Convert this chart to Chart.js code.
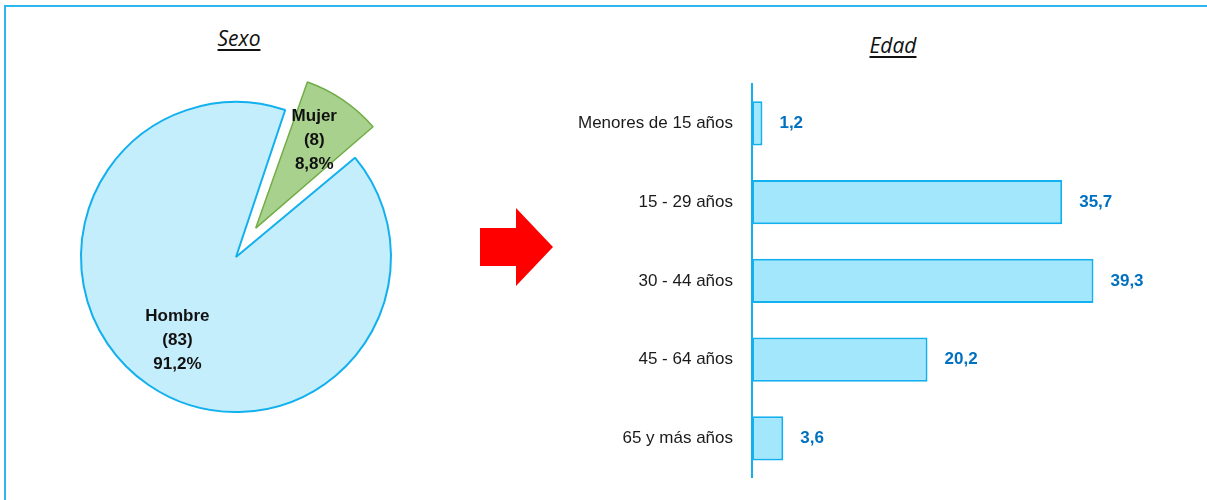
<!DOCTYPE html>
<html>
<head>
<meta charset="utf-8">
<script src="https://cdn.jsdelivr.net/npm/chart.js@4/dist/chart.umd.min.js"></script>
<style>
  body { margin: 0; background: #fff; width: 1207px; height: 500px; overflow: hidden; position: relative; }
  .frame { position: absolute; left: 4px; top: 5px; width: 1220px; height: 520px; border-top: 2px solid #2cb8ef; border-left: 2px solid #2cb8ef; }
  .title { position: absolute; width: 120px; text-align: center; line-height: 24px; font-family: "Open Sans", "DejaVu Sans", sans-serif; font-style: italic; font-size: 21px; color: #111; text-decoration: underline; text-underline-offset: 3px; }
  canvas { position: absolute; top: 0; }
</style>
</head>
<body>
<div class="frame"></div>
<div class="title" style="left:179px; top:26px;">Sexo</div>
<div class="title" style="left:833px; top:33px;">Edad</div>
<canvas id="pie" width="560" height="500" style="left:0"></canvas>
<canvas id="bar" width="640" height="507" style="left:560px"></canvas>
<script>
const sexoLabels = ["Mujer", "Hombre"];
const sexoCounts = [8, 83];
const sexoPct = [8.8, 91.2];

const edadLabels = ["Menores de 15 años", "15 - 29 años", "30 - 44 años", "45 - 64 años", "65 y más años"];
const edadValues = [1.2, 35.7, 39.3, 20.2, 3.6];

const sans = "'Liberation Sans', Arial, sans-serif";
const blue = "#12b0ee";
const fmt = v => v.toFixed(1).replace(".", ",");

// pull the exploded slice back to the same radius as the rest
const arcRadiusFix = {
  id: "arcRadiusFix",
  afterUpdate(chart) {
    chart.getDatasetMeta(0).data.forEach(arc => {
      const off = (arc.options.offset || 0) / 4;
      const fix = 1 - Math.sin(Math.min(Math.PI, arc.circumference));
      arc.outerRadius -= off * fix;
    });
  }
};

const pieLabels = {
  id: "pieLabels",
  afterDatasetsDraw(chart) {
    const ctx = chart.ctx;
    chart.getDatasetMeta(0).data.forEach((arc, i) => {
      const mid = (arc.startAngle + arc.endAngle) / 2;
      const d = (arc.options.offset || 0) / 4 + 0.67 * 155;
      const x = arc.x + Math.cos(mid) * d;
      const y = arc.y + Math.sin(mid) * d;
      ctx.save();
      ctx.fillStyle = "#111";
      ctx.font = "bold 17px " + sans;
      ctx.textAlign = "center";
      ctx.textBaseline = "middle";
      const lines = [sexoLabels[i], "(" + sexoCounts[i] + ")", fmt(sexoPct[i]) + "%"];
      lines.forEach((t, k) => ctx.fillText(t, x, y + (k - 1) * 24 - 2));
      ctx.restore();
    });
  }
};

const arrow = {
  id: "arrow",
  afterDraw(chart) {
    const ctx = chart.ctx;
    ctx.save();
    ctx.fillStyle = "#ff0000";
    ctx.beginPath();
    ctx.moveTo(480, 228);
    ctx.lineTo(516, 228);
    ctx.lineTo(516, 208);
    ctx.lineTo(553, 247);
    ctx.lineTo(516, 286);
    ctx.lineTo(516, 266);
    ctx.lineTo(480, 266);
    ctx.closePath();
    ctx.fill();
    ctx.restore();
  }
};

new Chart(document.getElementById("pie"), {
  type: "pie",
  data: {
    labels: sexoLabels,
    datasets: [{
      data: sexoCounts,
      backgroundColor: ["#a9d18e", "#c5eefc"],
      borderColor: ["#70ad47", blue],
      borderWidth: [1.5, 2],
      offset: [140, 0]
    }]
  },
  options: {
    responsive: false,
    animation: false,
    events: [],
    rotation: 18.5,
    radius: 155,
    layout: { padding: { top: 14, bottom: 0, left: 0, right: 88 } },
    plugins: { legend: { display: false }, tooltip: { enabled: false } }
  },
  plugins: [arcRadiusFix, pieLabels, arrow]
});

const barLabels = {
  id: "barLabels",
  afterDatasetsDraw(chart) {
    const ctx = chart.ctx;
    ctx.save();
    ctx.fillStyle = "#0070c0";
    ctx.font = "bold 17px " + sans;
    ctx.textAlign = "left";
    ctx.textBaseline = "middle";
    chart.getDatasetMeta(0).data.forEach((bar, i) => {
      ctx.fillText(fmt(edadValues[i]), bar.x + 17, bar.y);
    });
    ctx.restore();
  }
};

new Chart(document.getElementById("bar"), {
  type: "bar",
  data: {
    labels: edadLabels,
    datasets: [{
      data: edadValues,
      backgroundColor: "#a3e7fc",
      borderColor: blue,
      borderWidth: 2,
      borderSkipped: false,
      barPercentage: 0.75,
      categoryPercentage: 0.75
    }]
  },
  options: {
    indexAxis: "y",
    responsive: false,
    animation: false,
    events: [],
    layout: { padding: { top: 84, bottom: 0, left: 0, right: 57 } },
    plugins: { legend: { display: false }, tooltip: { enabled: false } },
    scales: {
      x: { display: false, min: 0, max: 45 },
      y: {
        afterFit(s) { s.width = 192; },
        grid: { display: true, drawOnChartArea: false, drawTicks: false },
        border: { display: true, color: blue, width: 2 },
        ticks: { padding: 19, color: "#1a1a1a", font: { family: sans, size: 17 } }
      }
    }
  },
  plugins: [barLabels]
});
</script>
</body>
</html>
